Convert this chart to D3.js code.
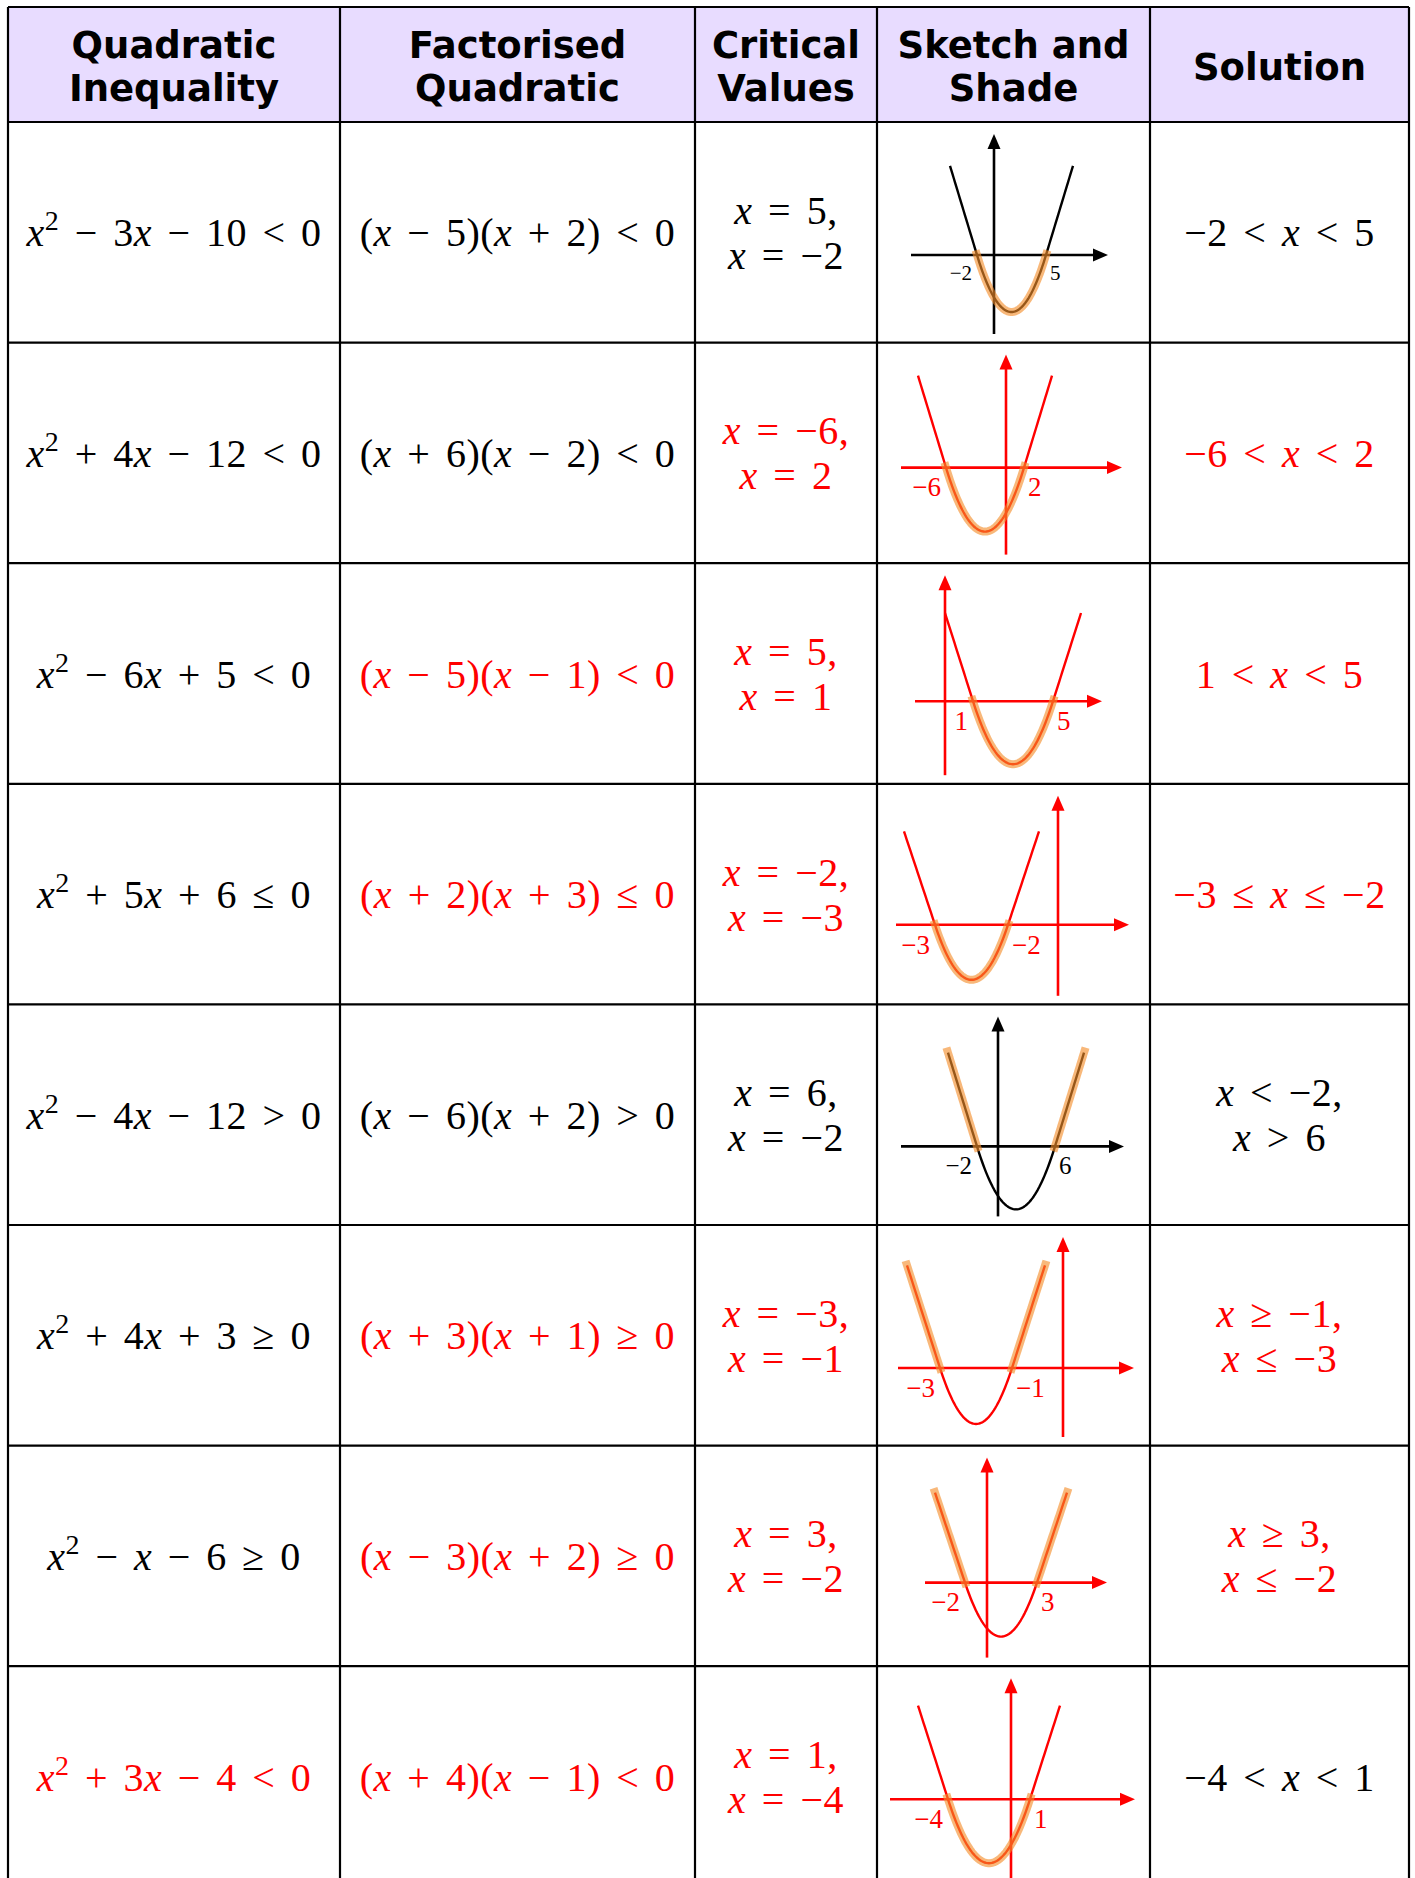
<!DOCTYPE html>
<html>
<head>
<meta charset="utf-8">
<script src="https://cdn.jsdelivr.net/npm/d3@7"></script>
<style>
  html, body { margin: 0; background: #fff; }
  .math { font-family: "Liberation Serif", "Times New Roman", serif; font-size: 40px; letter-spacing: 0.5px; word-spacing: 5px; }
  .head { font-family: "DejaVu Sans", Verdana, sans-serif; font-weight: bold; font-size: 37px; }
  .lbl { font-family: "Liberation Serif", "Times New Roman", serif; }
</style>
</head>
<body>
<svg id="chart"></svg>
<script>
// ---- table content ----
const headers = [["Quadratic", "Inequality"], ["Factorised", "Quadratic"], ["Critical", "Values"], ["Sketch and", "Shade"], ["Solution"]];

const inequalities = [
  "x² − 3x − 10 < 0", "x² + 4x − 12 < 0", "x² − 6x + 5 < 0", "x² + 5x + 6 ≤ 0",
  "x² − 4x − 12 > 0", "x² + 4x + 3 ≥ 0", "x² − x − 6 ≥ 0", "x² + 3x − 4 < 0"
];
const factorised = [
  "(x − 5)(x + 2) < 0", "(x + 6)(x − 2) < 0", "(x − 5)(x − 1) < 0", "(x + 2)(x + 3) ≤ 0",
  "(x − 6)(x + 2) > 0", "(x + 3)(x + 1) ≥ 0", "(x − 3)(x + 2) ≥ 0", "(x + 4)(x − 1) < 0"
];
const criticalValues = [
  ["x = 5,", "x = −2"], ["x = −6,", "x = 2"], ["x = 5,", "x = 1"], ["x = −2,", "x = −3"],
  ["x = 6,", "x = −2"], ["x = −3,", "x = −1"], ["x = 3,", "x = −2"], ["x = 1,", "x = −4"]
];
const solutions = [
  ["−2 < x < 5"], ["−6 < x < 2"], ["1 < x < 5"], ["−3 ≤ x ≤ −2"],
  ["x < −2,", "x > 6"], ["x ≥ −1,", "x ≤ −3"], ["x ≥ 3,", "x ≤ −2"], ["−4 < x < 1"]
];
// roots of each quadratic (sketch x-intercepts)
const roots = [[-2, 5], [-6, 2], [1, 5], [-3, -2], [-2, 6], [-3, -1], [-2, 3], [-4, 1]];
const shadeRegion = ["between", "between", "between", "between", "outside", "outside", "outside", "between"];
// which cells are written in red (columns: inequality, factorised, critical, sketch, solution)
const redCells = [
  [0, 0, 0, 0, 0], [0, 0, 1, 1, 1], [0, 1, 1, 1, 1], [0, 1, 1, 1, 1],
  [0, 0, 0, 0, 0], [0, 1, 1, 1, 1], [0, 1, 1, 1, 1], [1, 1, 1, 1, 0]
];

// ---- layout ----
const W = 1415, H = 1878;
const colEdges = [8, 340, 695, 877, 1150, 1409];
const headTop = 7, headBottom = 122, rowH = 220.6;
const RED = "#ff0000", BLACK = "#000";
const SHADE = "rgba(244,140,40,0.62)";

// sketch placement inside its cell (pixels relative to cell left / row top); sketches are not to scale
const sketchLayout = [
  { cx: 134.5, half: 34.5, axisX: 117, axisY: 133, depth: 57, arm: 27, xAxis: [34, 231], fs: 21 },
  { cx: 108, half: 39, axisX: 129, axisY: 125, depth: 64, arm: 28, xAxis: [24, 245], fs: 27 },
  { cx: 136, half: 40, axisX: 68, axisY: 138, depth: 63, arm: 28, xAxis: [38, 225], fs: 27 },
  { cx: 94.5, half: 36.5, axisX: 181, axisY: 141, depth: 55, arm: 31, xAxis: [19, 252], fs: 27 },
  { cx: 139, half: 39, axisX: 121, axisY: 142, depth: 63, arm: 29, xAxis: [24, 247], fs: 25 },
  { cx: 99, half: 36, axisX: 186, axisY: 143, depth: 56, arm: 33, xAxis: [21, 257], fs: 27 },
  { cx: 124, half: 36, axisX: 110, axisY: 137, depth: 54, arm: 30, xAxis: [48, 230], fs: 27 },
  { cx: 112, half: 41, axisX: 134, axisY: 133, depth: 64, arm: 30, xAxis: [13, 258], fs: 27 }
];

const svg = d3.select("#chart").attr("width", W).attr("height", H);
svg.append("rect").attr("width", W).attr("height", H).attr("fill", "#fff");

const rowTop = i => headBottom + i * rowH;
const colMid = j => (colEdges[j] + colEdges[j + 1]) / 2;

// header background
svg.append("rect")
  .attr("x", colEdges[0]).attr("y", headTop)
  .attr("width", colEdges[5] - colEdges[0]).attr("height", headBottom - headTop)
  .attr("fill", "#e8dcff");

// header text
headers.forEach((lines, j) => {
  const mid = (headTop + headBottom) / 2;
  lines.forEach((s, k) => {
    const cy = mid + (k - (lines.length - 1) / 2) * 43;
    svg.append("text").attr("class", "head")
      .attr("x", colMid(j)).attr("y", cy + 15)
      .attr("text-anchor", "middle").attr("fill", BLACK)
      .text(s);
  });
});

// math text: italic x, raised ²
function mathText(str, x, y, color) {
  const t = svg.append("text").attr("class", "math")
    .attr("x", x).attr("y", y).attr("text-anchor", "middle").attr("fill", color);
  let raised = false;
  for (const ch of str) {
    const s = t.append("tspan");
    if (ch === "²") {
      s.text("2").attr("font-size", 28).attr("dy", -16);
      raised = true;
      continue;
    }
    s.text(ch);
    if (ch === "x") s.attr("font-style", "italic");
    if (raised) { s.attr("dy", 16); raised = false; }
  }
}

function cellLines(lines, j, i, color) {
  const mid = rowTop(i) + rowH / 2 + 1;
  lines.forEach((s, k) => {
    const cy = mid + (k - (lines.length - 1) / 2) * 45;
    mathText(s, colMid(j), cy + 13, color);
  });
}

const colorOf = (i, j) => redCells[i][j] ? RED : BLACK;

inequalities.forEach((s, i) => cellLines([s], 0, i, colorOf(i, 0)));
factorised.forEach((s, i) => cellLines([s], 1, i, colorOf(i, 1)));
criticalValues.forEach((l, i) => cellLines(l, 2, i, colorOf(i, 2)));
solutions.forEach((l, i) => cellLines(l, 4, i, colorOf(i, 4)));

// sketch curve: parabola between the roots, straight tangent arms outside
function sketchValue(x, r1, r2) {
  if (x < r1) return -(r2 - r1) * (x - r1);
  if (x > r2) return (r2 - r1) * (x - r2);
  return (x - r1) * (x - r2);
}

roots.forEach(([r1, r2], i) => {
  const L = sketchLayout[i];
  const x0 = colEdges[3], y0 = rowTop(i);
  const col = colorOf(i, 3);
  const g = svg.append("g").attr("transform", `translate(${x0},${y0})`);

  const x = d3.scaleLinear().domain([r1, r2]).range([L.cx - L.half, L.cx + L.half]);
  const vertex = sketchValue((r1 + r2) / 2, r1, r2);
  const y = d3.scaleLinear().domain([vertex, 0]).range([L.axisY + L.depth, L.axisY]);
  const line = d3.line().x(d => x(d)).y(d => y(sketchValue(d, r1, r2)));

  const xa = x.invert(L.cx - L.half - L.arm), xb = x.invert(L.cx + L.half + L.arm);
  const samples = (a, b) => d3.range(0, 101).map(k => a + (b - a) * k / 100);

  // shaded part
  const pad = (r2 - r1) * 0.02;
  const shadeSegs = shadeRegion[i] === "between"
    ? [samples(r1 - pad, r2 + pad)]
    : [samples(xa - pad, r1 + pad), samples(r2 - pad, xb + pad)];

  // axes
  const tipLen = 15, tipW = 6.5;
  g.append("line")
    .attr("x1", L.xAxis[0]).attr("x2", L.xAxis[1] - tipLen + 2)
    .attr("y1", L.axisY).attr("y2", L.axisY)
    .attr("stroke", col).attr("stroke-width", 2.6);
  g.append("path")
    .attr("d", `M${L.xAxis[1]},${L.axisY}L${L.xAxis[1] - tipLen},${L.axisY - tipW}L${L.xAxis[1] - tipLen},${L.axisY + tipW}Z`)
    .attr("fill", col);
  const yTop = 12, yBottom = 212;
  g.append("line")
    .attr("x1", L.axisX).attr("x2", L.axisX)
    .attr("y1", yTop + tipLen - 2).attr("y2", i === 7 ? 260 : yBottom)
    .attr("stroke", col).attr("stroke-width", 2.6);
  g.append("path")
    .attr("d", `M${L.axisX},${yTop}L${L.axisX - tipW},${yTop + tipLen}L${L.axisX + tipW},${yTop + tipLen}Z`)
    .attr("fill", col);

  // curve
  g.append("path")
    .attr("d", line(samples(xa, xb)))
    .attr("fill", "none").attr("stroke", col).attr("stroke-width", 2.4)
    .attr("stroke-linejoin", "round");

  shadeSegs.forEach(seg => {
    g.append("path")
      .attr("d", line(seg))
      .attr("fill", "none").attr("stroke", SHADE).attr("stroke-width", 8)
      .attr("stroke-linejoin", "round");
  });

  // root labels
  const fmt = v => (v < 0 ? "−" + Math.abs(v) : String(v));
  const ly = L.axisY + 11 + L.fs * 0.66;
  g.append("text").attr("class", "lbl")
    .attr("x", x(r1) - 5).attr("y", ly)
    .attr("text-anchor", "end").attr("font-size", L.fs).attr("fill", col)
    .text(fmt(r1));
  g.append("text").attr("class", "lbl")
    .attr("x", x(r2) + 4).attr("y", ly)
    .attr("text-anchor", "start").attr("font-size", L.fs).attr("fill", col)
    .text(fmt(r2));
});

// grid lines
const rowEdges = d3.range(0, 9).map(rowTop);
const gridColor = "#000";
colEdges.forEach(cx => {
  svg.append("line").attr("x1", cx).attr("x2", cx).attr("y1", headTop).attr("y2", H)
    .attr("stroke", gridColor).attr("stroke-width", 2.2);
});
[headTop, ...rowEdges].forEach(ry => {
  svg.append("line").attr("x1", colEdges[0]).attr("x2", colEdges[5]).attr("y1", ry).attr("y2", ry)
    .attr("stroke", gridColor).attr("stroke-width", 2.2);
});
</script>
</body>
</html>
